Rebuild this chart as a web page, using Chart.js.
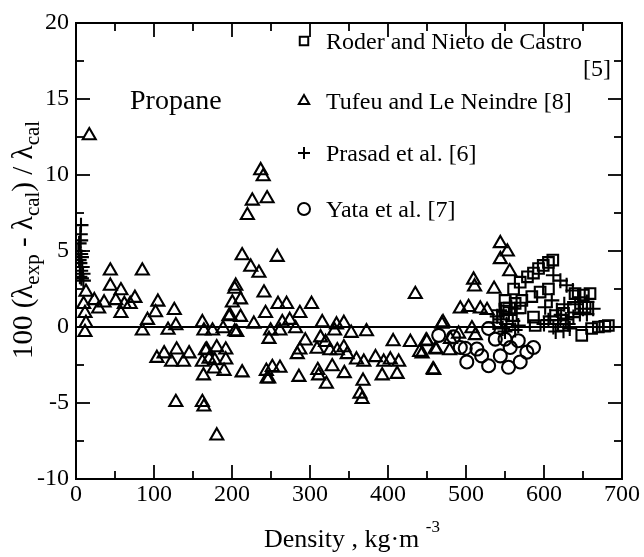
<!DOCTYPE html>
<html>
<head>
<meta charset="utf-8">
<script src="https://cdn.jsdelivr.net/npm/chart.js@4.4.0/dist/chart.umd.min.js"></script>
<style>
  body { margin: 0; background: #fff; }
</style>
</head>
<body>
<canvas id="propane" width="644" height="557"></canvas>
<script>
// density (kg/m3), deviation (%)
const roder = [
  [550,1.75],[561,2.5],[569.5,2.95],[578.8,3.3],[586.5,3.55],[593,3.85],[599,4.05],[605.7,4.25],[611.3,4.4],
  [551.6,1.25],[563,1.55],[571.6,1.75],[584.4,2.0],[595,2.3],[605.7,2.5],[639.8,2.2],[650.5,2.1],[659,2.2],
  [588.7,0.1],[648.4,-0.55],[661,-0.1],[669.7,0],[678,0.05],[682.5,0.1],[625,0.9],[637.7,1.3],[652.7,1.3],
  [569.5,1.25],[586.5,0.65]
];
const tufeu = [
  [17,12.6],[44,3.7],[85,3.7],[44,2.7],[57.6,2.4],[75.5,1.9],[51,1.75],[36,1.6],[23.5,1.75],[12.8,2.3],
  [9.8,1.5],[29,1.2],[62,1.5],[69.5,1.5],[57.6,0.9],[11.5,0.9],[12.8,0.25],[11.5,-0.35],[105,1.65],[102,0.95],
  [91.7,0.45],[85,-0.25],[126,1.1],[128,0.1],[118,-0.2],[162,0.3],[164,-0.25],[175,-0.25],[188.6,-0.1],[196,0.7],
  [203.5,2.5],[200.5,1.6],[211,1.8],[213,4.7],[219.7,7.35],[226,8.3],[236.8,10.3],[240,9.9],[245,8.45],[224,3.95],
  [234.5,3.55],[241,2.25],[243,0.9],[211,0.65],[203.5,-0.3],[228,0.2],[258,4.6],[204.8,2.7],[259,1.5],[270,1.5],
  [287,0.9],[302,1.5],[197.5,0.75],[274,0.45],[264.5,0.3],[206,-0.35],[249.5,-0.25],[261.4,-0.25],[281.5,-0.1],[247.4,-0.8],
  [315.7,0.3],[334,0.15],[343.4,0.25],[331.5,-0.25],[352.8,-0.4],[372.4,-0.3],[294,-0.9],[313.5,-0.7],[320,-1.0],[287,-1.5],
  [283.7,-1.8],[309,-1.45],[325.5,-1.55],[335,-1.55],[343.4,-1.35],[347.7,-1.8],[359.6,-2.15],[369,-2.3],[384,-2.0],[394.5,-2.3],
  [406.6,-0.95],[403,-2.15],[413.7,-2.3],[411.7,-3.1],[392.5,-3.2],[428.7,-1.0],[440.6,-1.65],[450,-0.95],[457.8,-2.8],[462,-1.5],
  [469,0.2],[435,2.15],[328.5,-2.6],[344,-3.05],[310,-2.85],[311,-3.2],[321,-3.75],[368,-3.55],[364,-4.4],[366.8,-4.75],
  [285.8,-3.3],[247,-3.4],[251.7,-2.65],[261.5,-2.7],[213,-3.0],[177,-2.75],[189.8,-2.9],[166,-1.55],[180.4,-1.35],[192,-1.5],
  [192,-2.15],[177.9,-2.2],[163.4,-3.2],[162,-4.95],[164,-5.25],[180.5,-7.15],[103.7,-2.05],[113,-1.75],[129,-1.5],[122.5,-2.3],
  [137.8,-2.3],[145,-1.75],[128,-4.95],[162,-2.3],[167.6,-1.5],[170.6,-2.1],[244,-2.9],[245,-3.4],
  [544,5.5],[553,4.95],[544,4.45],[556,3.65],[509.7,3.1],[511,2.65],[536,2.5],[492.7,1.2],[503.3,1.3],[518.3,1.2],
  [527,1.1],[470.6,0.3],[449,-0.9],[480,-0.8],[490.5,-0.45],[507.6,-0.1],[512,-0.55],[460.7,-1.45],[479,-1.55],[458.7,-2.85],
  [443.7,-1.75]
];
const prasad = [
  [6.4,6.7],[5.5,6.1],[6,5.7],[4,5.5],[3,5.0],[6,4.8],[7,4.6],[4,4.4],[5,4.2],[8,3.95],[6,3.7],[9,3.5],[5,3.3],[7,3.2],[9.5,3.05],
  [535,0.3],[540,0.7],[545,0.5],[548,1.0],[550,-0.3],[552,0.2],[555,0.8],[557,1.6],[558,1.3],[560,0.4],[563,-0.2],[565,0.9],
  [543,1.1],[567,0.1],[547,-0.1],
  [612,3.4],[621,3.05],[629,2.75],[637,2.4],[646,1.95],[655,1.65],[663,1.2],[610,1.75],[616.5,1.1],[621,0.45],[625,-0.25],
  [631,0.2],[637.7,0.65],[601.5,1.3],[605.7,0.45],[612,0],[646,0.85],[655,0.85],[618,0.2],[622,0.8],[628,0.5],[615,-0.3],
  [633,-0.1],[608,0.7],[626,1.5],[640,1.5],[650,1.2],[600,0.2]
];
const yata = [
  [465,-0.55],[484,-0.65],[492.7,-1.35],[499,-1.4],[501,-2.3],[514,-1.45],[520,-1.9],[529,-0.1],[529,-2.55],[537.6,-0.8],
  [544,-1.9],[550,-0.8],[554.5,-2.65],[556.7,-1.35],[567,-0.9],[569.5,-2.3],[578,-1.65],[586.5,-1.35]
];
const zeroLine = [[0,0],[700,0]];

const xTicks = [0,100,200,300,400,500,600,700];
const yTicks = [-10,-5,0,5,10,15,20];
const legendLabels = ['Roder and Nieto de Castro', 'Tufeu and Le Neindre [8]', 'Prasad et al. [6]', 'Yata et al. [7]'];

const SERIF = "'Liberation Serif', 'DejaVu Serif', serif";
const pts = arr => arr.map(([x, y]) => ({x, y}));

function drawMarker(ctx, style, r, x, y) {
  if (Chart.helpers && Chart.helpers.drawPoint) {
    Chart.helpers.drawPoint(ctx, {pointStyle: style, radius: r, borderWidth: ctx.lineWidth, rotation: 0}, x, y);
  }
}

const framePlugin = {
  id: 'frame',
  afterDatasetsDraw(chart) {
    const {ctx, chartArea: a, scales: {x, y}} = chart;
    ctx.save();
    ctx.strokeStyle = '#000';
    ctx.lineWidth = 2;
    ctx.strokeRect(a.left, a.top, a.right - a.left, a.bottom - a.top);
    ctx.lineWidth = 1.8;
    const seg = (x1, y1, x2, y2) => { ctx.beginPath(); ctx.moveTo(x1, y1); ctx.lineTo(x2, y2); ctx.stroke(); };
    for (let v = 0; v <= 700; v += 50) {
      const px = x.getPixelForValue(v);
      const len = v % 100 === 0 ? 14 : 8;
      seg(px, a.bottom, px, a.bottom - len);
      seg(px, a.top, px, a.top + len);
    }
    for (let v = -10; v <= 20; v += 2.5) {
      const py = y.getPixelForValue(v);
      const len = v % 5 === 0 ? 14 : 8;
      seg(a.left, py, a.left + len, py);
      seg(a.right, py, a.right - len, py);
    }
    ctx.restore();
  },
  afterDraw(chart) {
    const {ctx} = chart;
    ctx.save();
    ctx.fillStyle = '#000';
    ctx.textBaseline = 'alphabetic';

    // sample name
    ctx.font = '28px ' + SERIF;
    ctx.textAlign = 'left';
    ctx.fillText('Propane', 130, 109);

    // legend
    const styles = ['rect', 'triangle', 'cross', 'circle'];
    const rows = [49, 109, 161, 217];
    ctx.font = '24px ' + SERIF;
    legendLabels.forEach((t, i) => {
      ctx.strokeStyle = '#000';
      ctx.fillStyle = 'rgba(0,0,0,0)';
      ctx.lineWidth = 2;
      drawMarker(ctx, styles[i], 6, 304, rows[i] - 8);
      ctx.fillStyle = '#000';
      ctx.fillText(t, 326, rows[i]);
    });
    ctx.textAlign = 'right';
    ctx.fillText('[5]', 611, 76);

    // x title with superscript
    ctx.textAlign = 'left';
    ctx.font = '26px ' + SERIF;
    const xt = 'Density , kg\u00b7m ';
    const w1 = ctx.measureText(xt).width;
    ctx.font = '17px ' + SERIF;
    const w2 = ctx.measureText('-3').width;
    const sx = 352 - (w1 + w2) / 2;
    ctx.font = '26px ' + SERIF;
    ctx.fillText(xt, sx, 547);
    ctx.font = '17px ' + SERIF;
    ctx.fillText('-3', sx + w1, 532);

    // y title, rotated, with subscripts
    const parts = [['100 (\u03bb', 0], ['exp', 1], [' - \u03bb', 0], ['cal', 1], [') / \u03bb', 0], ['cal', 1]];
    const fontOf = s => (s ? '21px ' : '29px ') + SERIF;
    let total = 0;
    parts.forEach(([t, s]) => { ctx.font = fontOf(s); total += ctx.measureText(t).width; });
    ctx.translate(32, 240);
    ctx.rotate(-Math.PI / 2);
    let cx = -total / 2;
    parts.forEach(([t, s]) => {
      ctx.font = fontOf(s);
      ctx.fillText(t, cx, s ? 7 : 0);
      cx += ctx.measureText(t).width;
    });
    ctx.restore();
  }
};

const markerCommon = {
  type: 'scatter',
  borderColor: '#000',
  backgroundColor: 'rgba(0,0,0,0)',
  pointBorderWidth: 2.1,
  pointHoverRadius: 7
};

new Chart(document.getElementById('propane'), {
  type: 'scatter',
  data: {
    datasets: [
      {
        type: 'line',
        label: 'zero',
        data: pts(zeroLine),
        borderColor: '#000',
        borderWidth: 2,
        pointRadius: 0,
        fill: false
      },
      Object.assign({label: legendLabels[0], data: pts(roder), pointStyle: 'rect', pointRadius: 7.5}, markerCommon),
      Object.assign({label: legendLabels[1], data: pts(tufeu), pointStyle: 'triangle', pointRadius: 7.5}, markerCommon),
      Object.assign({label: legendLabels[2], data: pts(prasad), pointStyle: 'cross', pointRadius: 7.5}, markerCommon),
      Object.assign({label: legendLabels[3], data: pts(yata), pointStyle: 'circle', pointRadius: 6.5}, markerCommon)
    ]
  },
  options: {
    responsive: false,
    animation: false,
    layout: {padding: {top: 23, right: 22, left: 0, bottom: 0}},
    plugins: {
      legend: {display: false},
      tooltip: {enabled: false}
    },
    scales: {
      x: {
        type: 'linear',
        min: 0,
        max: 700,
        afterFit: s => { s.height = 78; },
        afterBuildTicks: s => { s.ticks = xTicks.map(v => ({value: v})); },
        grid: {display: false, drawTicks: false},
        border: {display: false},
        ticks: {
          color: '#000',
          padding: 1,
          maxRotation: 0,
          font: {family: SERIF, size: 24}
        }
      },
      y: {
        type: 'linear',
        min: -10,
        max: 20,
        afterFit: s => { s.width = 76; },
        afterBuildTicks: s => { s.ticks = yTicks.map(v => ({value: v})); },
        grid: {display: false, drawTicks: false},
        border: {display: false},
        ticks: {
          color: '#000',
          padding: 7,
          font: {family: SERIF, size: 24}
        }
      }
    }
  },
  plugins: [framePlugin]
});
</script>
</body>
</html>
